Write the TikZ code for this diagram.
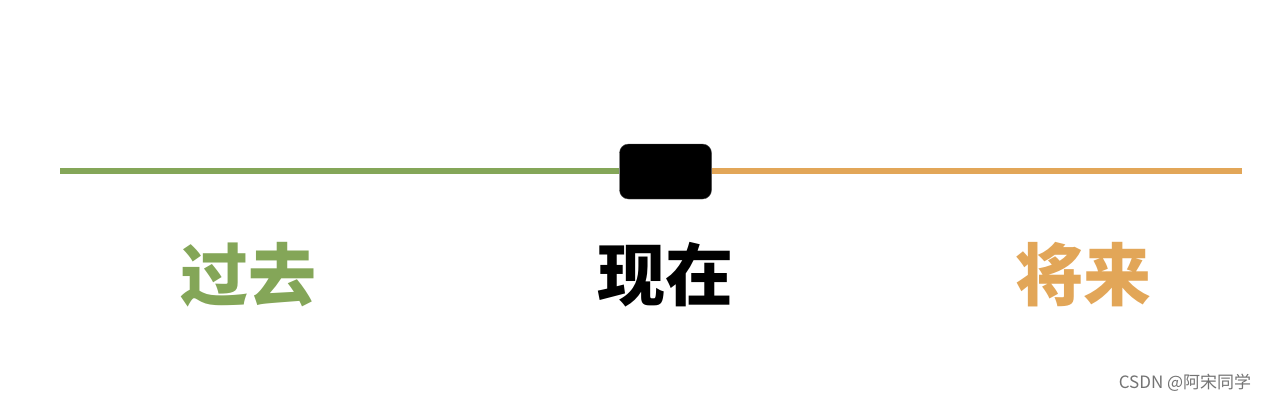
\documentclass[tikz,border=0pt]{standalone}
\usepackage{fontspec}
\newfontfamily\cjk{Noto Sans CJK SC}
\definecolor{past}{RGB}{132,166,88}
\definecolor{future}{RGB}{226,166,88}
\usetikzlibrary{positioning}

\begin{document}
\begin{tikzpicture}[x=1pt,y=-1pt,
    era/.style={font=\cjk\bfseries\fontsize{68}{68}\selectfont,inner sep=0pt},
    nowbox/.style={fill=black,draw=black!70,rounded corners=9pt,minimum width=92pt,minimum height=55pt,inner sep=0pt}]
          \useasboundingbox (0,0) rectangle (1268,402);
          \coordinate (start) at (60,171);
          \coordinate (stop) at (1242,171);
          \node[nowbox] (now) at (665.5,171.5) {};
          \draw[past,line width=6pt] (start) -- (start -| now.west);
          \draw[future,line width=6pt] (stop -| now.east) -- (stop);
          \node[era,text=past] (p) at (248,275) {过去};
          \node[era,text=black] (n) at (665,275) {现在};
          \node[era,text=future] (f) at (1083,275) {将来};
          \node[font=\cjk\fontsize{17}{17}\selectfont,text=black!55,inner sep=0pt] (mark) at (1185,383) {CSDN @阿宋同学};
        \end{tikzpicture}
\end{document}
